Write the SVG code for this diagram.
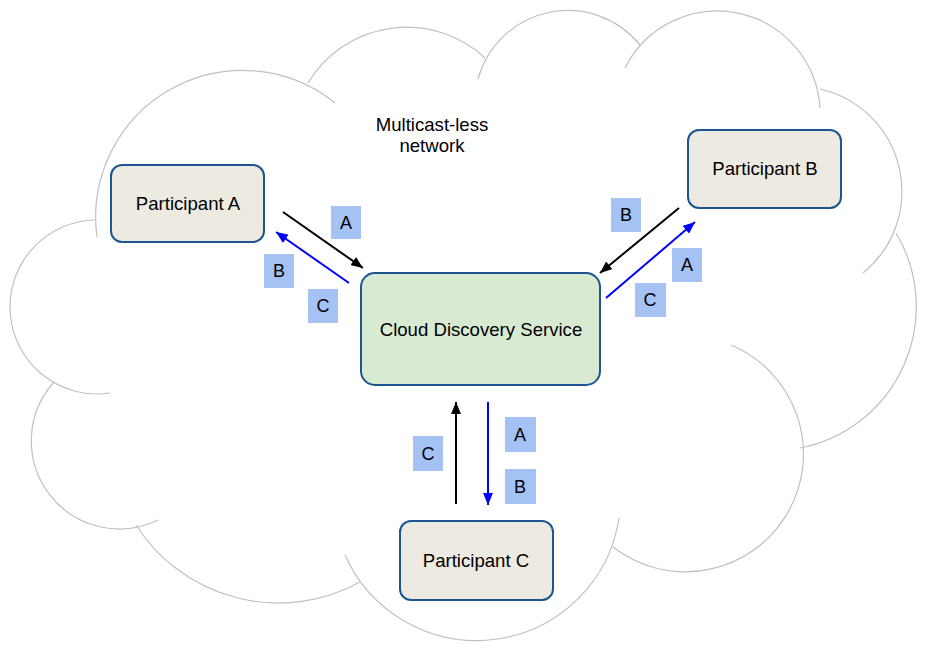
<svg xmlns="http://www.w3.org/2000/svg" width="927" height="652" viewBox="0 0 927 652">
<defs>
<style>
.cloud{fill:none;stroke:#c0c0c0;stroke-width:1.2}
.node{stroke:#1c5590;stroke-width:2}
.part{fill:#edebe1}
.svc{fill:#d9ead3}
.t{font-family:"Liberation Sans",Arial,sans-serif;font-size:18.6px;fill:#000;text-anchor:middle}
.lbl rect{fill:#a4c2f4}
.lbl text{font-family:"Liberation Sans",Arial,sans-serif;font-size:18px;fill:#000;text-anchor:middle}
.blk{stroke:#000;stroke-width:2;fill:none}
.blu{stroke:#0000ff;stroke-width:2;fill:none}
</style>
<marker id="ah-k" viewBox="0 0 12 10" refX="12" refY="5" markerWidth="12" markerHeight="10" markerUnits="userSpaceOnUse" orient="auto"><path d="M0,0 L12,5 L0,10 z" fill="#000"/></marker>
<marker id="ah-b" viewBox="0 0 12 10" refX="12" refY="5" markerWidth="12" markerHeight="10" markerUnits="userSpaceOnUse" orient="auto"><path d="M0,0 L12,5 L0,10 z" fill="#0000ff"/></marker>
</defs>
<rect width="927" height="652" fill="#fff"/>
<g id="cloud">
<path class="cloud" d="M97,237 A147,147 0 0 1 335,103"/>
<path class="cloud" d="M308,83 A115,115 0 0 1 485,58"/>
<path class="cloud" d="M478,79 A93,93 0 0 1 640,45"/>
<path class="cloud" d="M625,68 A103,103 0 0 1 820,108"/>
<path class="cloud" d="M820,89 A105,105 0 0 1 863,273"/>
<path class="cloud" d="M896,233 A144,144 0 0 1 800,448"/>
<path class="cloud" d="M731,345 A118,118 0 1 1 613,547"/>
<path class="cloud" d="M619,518 A144,144 0 0 1 345,555"/>
<path class="cloud" d="M360,582 A169,169 0 0 1 136,525"/>
<path class="cloud" d="M158,520 A88,88 0 0 1 54,382"/>
<path class="cloud" d="M110,393 A87,87 0 1 1 95,220"/>
<text class="t" x="432" y="131">Multicast-less</text>
<text class="t" x="432" y="152">network</text>
</g>
<g id="participant-a"><rect class="node part" x="111" y="165" width="153" height="77" rx="11"/><text class="t" x="188" y="210">Participant A</text></g>
<g id="participant-b"><rect class="node part" x="688" y="130" width="153" height="78" rx="11"/><text class="t" x="765" y="175">Participant B</text></g>
<g id="cloud-discovery-service"><rect class="node svc" x="361" y="273" width="239" height="112" rx="14"/><text class="t" x="481" y="336">Cloud Discovery Service</text></g>
<g id="participant-c"><rect class="node part" x="400" y="521" width="153" height="79" rx="11"/><text class="t" x="476" y="567">Participant C</text></g>
<g id="connectors">
<line class="blk" x1="283" y1="212" x2="363" y2="268" marker-end="url(#ah-k)"/>
<line class="blu" x1="349" y1="283" x2="276" y2="232" marker-end="url(#ah-b)"/>
<line class="blk" x1="679" y1="208" x2="600" y2="273" marker-end="url(#ah-k)"/>
<line class="blu" x1="606" y1="298" x2="695" y2="222" marker-end="url(#ah-b)"/>
<line class="blk" x1="456" y1="504" x2="456" y2="402" marker-end="url(#ah-k)"/>
<line class="blu" x1="488" y1="402" x2="488" y2="505" marker-end="url(#ah-b)"/>
</g>
<g id="labels" class="lbl">
<rect x="331" y="206" width="30" height="33"/><text x="346" y="229">A</text>
<rect x="264" y="254" width="30" height="34"/><text x="279" y="277">B</text>
<rect x="308" y="289" width="30" height="34"/><text x="323" y="312">C</text>
<rect x="611" y="198" width="30" height="34"/><text x="626" y="221">B</text>
<rect x="672" y="248" width="30" height="34"/><text x="687" y="271">A</text>
<rect x="635" y="283" width="31" height="34"/><text x="650" y="306">C</text>
<rect x="413" y="436" width="30" height="35"/><text x="428" y="460">C</text>
<rect x="505" y="417" width="31" height="35"/><text x="520" y="441">A</text>
<rect x="505" y="469" width="31" height="35"/><text x="520" y="493">B</text>
</g>
</svg>
